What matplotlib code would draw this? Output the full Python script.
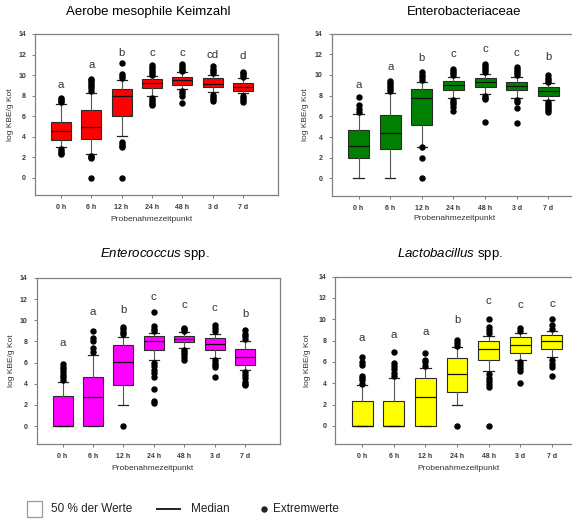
import matplotlib
matplotlib.use("Agg")
import matplotlib.pyplot as plt
from matplotlib.patches import Rectangle
from matplotlib.lines import Line2D

plt.rcParams['font.family'] = ['Liberation Sans', 'DejaVu Sans']
plt.rcParams['mathtext.fontset'] = 'custom'
plt.rcParams['mathtext.it'] = 'Liberation Sans:italic'
plt.rcParams['mathtext.rm'] = 'Liberation Sans'

timepoints = ["0 h", "6 h", "12 h", "24 h", "48 h", "3 d", "7 d"]
yticks = [0, 2, 4, 6, 8, 10, 12, 14]

# Aerobe mesophile Keimzahl
aer_q1 = [3.65, 3.8, 6.05, 8.75, 9.05, 8.8, 8.45]
aer_med = [4.5, 4.95, 8.0, 9.2, 9.5, 9.15, 8.85]
aer_q3 = [5.45, 6.6, 8.65, 9.6, 9.85, 9.7, 9.25]
aer_lo = [3.0, 2.3, 4.05, 8.0, 8.6, 8.3, 8.2]
aer_hi = [7.2, 8.2, 9.5, 9.9, 10.3, 10.0, 9.7]
aer_fliers = [
    [7.35, 7.5, 7.65, 7.75, 2.8, 2.6, 2.4, 2.25],
    [8.45, 8.7, 8.9, 9.1, 9.3, 9.5, 9.65, 2.15, 2.0, 1.9, 0.0],
    [9.75, 9.95, 10.1, 11.2, 3.45, 3.3, 3.1, 3.0, 0.0],
    [10.0, 10.2, 10.4, 10.6, 10.8, 11.0, 7.8, 7.6, 7.4, 7.2, 7.05],
    [10.35, 10.5, 10.7, 10.9, 11.05, 8.4, 8.2, 8.0, 7.25],
    [10.2, 10.4, 10.6, 10.9, 8.1, 7.9, 7.7, 7.5],
    [9.8, 10.0, 10.15, 10.3, 8.0, 7.8, 7.6, 7.4],
]
aer_letters = ["a", "a", "b", "c", "c", "cd", "d"]
aer_letter_y = [8.77, 10.68, 11.82, 11.82, 11.82, 11.69, 11.59]

# Enterobacteriaceae
ent_q1 = [2.0, 2.85, 5.15, 8.5, 8.85, 8.55, 7.95]
ent_med = [3.15, 4.4, 7.75, 9.0, 9.3, 8.95, 8.45]
ent_q3 = [4.65, 6.1, 8.6, 9.4, 9.7, 9.35, 8.85]
ent_lo = [0.0, 0.0, 3.05, 7.8, 8.2, 7.8, 7.55]
ent_hi = [6.2, 8.25, 9.3, 9.8, 10.1, 9.8, 9.2]
ent_fliers = [
    [6.45, 6.75, 7.05, 7.85],
    [8.4, 8.6, 8.8, 9.0, 9.2, 9.4],
    [9.5, 9.75, 10.0, 10.3, 3.0, 2.0, 0.0],
    [10.0, 10.2, 10.4, 10.55, 7.6, 7.4, 7.2, 6.9, 6.5],
    [10.3, 10.5, 10.7, 10.9, 11.05, 8.0, 7.8, 7.7, 5.45],
    [10.0, 10.2, 10.4, 10.6, 10.8, 7.6, 7.4, 6.8, 5.4],
    [9.35, 9.5, 9.7, 9.95, 7.4, 7.2, 7.0, 6.8, 6.6, 6.45],
]
ent_letters = ["a", "a", "b", "c", "c", "c", "b"]
ent_letter_y = [8.76, 10.5, 11.3, 11.77, 12.25, 11.8, 11.45]

# Enterococcus spp.
enc_q1 = [0.0, 0.0, 3.85, 7.2, 7.95, 7.2, 5.75]
enc_med = [0.0, 2.7, 6.05, 8.0, 8.25, 7.75, 6.55]
enc_q3 = [2.8, 4.6, 7.65, 8.55, 8.55, 8.35, 7.25]
enc_lo = [0.0, 0.0, 2.0, 6.2, 7.4, 6.45, 5.3]
enc_hi = [4.2, 6.7, 8.4, 8.8, 8.85, 8.7, 8.0]
enc_fliers = [
    [4.4, 4.6, 4.85, 5.1, 5.35, 5.6, 5.85],
    [7.0, 7.4, 8.0, 8.3, 9.0],
    [8.7, 8.9, 9.15, 9.4, 0.0],
    [9.0, 9.2, 9.45, 10.8, 6.0, 5.7, 5.3, 5.0, 4.6, 3.5, 2.4, 2.2],
    [9.0, 9.2, 9.3, 7.2, 7.0, 6.8, 6.5, 6.2],
    [8.95, 9.25, 9.6, 6.2, 6.0, 5.8, 5.6, 4.65],
    [8.2, 8.5, 8.7, 9.1, 5.1, 4.8, 4.5, 4.2, 4.0, 3.9],
]
enc_letters = ["a", "a", "b", "c", "c", "c", "b"]
enc_letter_y = [7.56, 10.5, 10.7, 11.93, 11.17, 10.86, 10.33]

# Lactobacillus spp.
lac_q1 = [0.0, 0.0, 0.0, 3.2, 6.15, 6.85, 7.25]
lac_med = [0.0, 0.0, 2.75, 4.9, 7.2, 7.6, 8.0]
lac_q3 = [2.3, 2.3, 4.45, 6.35, 8.0, 8.35, 8.55]
lac_lo = [0.0, 0.0, 0.0, 2.0, 5.1, 6.2, 6.45]
lac_hi = [3.8, 4.5, 5.45, 7.35, 8.45, 8.7, 8.9]
lac_fliers = [
    [3.95, 4.3, 4.5, 4.7, 5.75, 6.0, 6.5],
    [4.7, 5.0, 5.3, 5.6, 5.9, 6.9],
    [5.6, 5.95, 6.15, 6.85],
    [7.5, 7.8, 8.05, 0.0],
    [8.7, 9.0, 9.25, 10.0, 4.85, 4.5, 4.2, 3.9, 3.65, 0.0],
    [8.9, 9.2, 6.0, 5.7, 5.4, 5.1, 4.05],
    [9.1, 9.5, 10.0, 6.2, 5.8, 5.5, 4.65],
]
lac_letters = ["a", "a", "a", "b", "c", "c", "c"]
lac_letter_y = [7.99, 8.24, 8.49, 9.65, 11.4, 11.02, 11.18]

W, H = 572, 519
fig = plt.figure(figsize=(W / 100, H / 100), dpi=100)


def px_axes(left, top, width, height):
    return fig.add_axes([left / W, 1 - (top + height) / H, width / W, height / H])


panels = [
    dict(rect=(35, 34, 243, 161), q1=aer_q1, med=aer_med, q3=aer_q3, lo=aer_lo, hi=aer_hi,
         fl=aer_fliers, let=aer_letters, ly=aer_letter_y, color="#ff0000",
         title="Aerobe mesophile Keimzahl", tpos=(148, 12.5), xl=(151.5, 219), yl=14),
    dict(rect=(331.7, 33.5, 253, 162.5), q1=ent_q1, med=ent_med, q3=ent_q3, lo=ent_lo, hi=ent_hi,
         fl=ent_fliers, let=ent_letters, ly=ent_letter_y, color="#008000",
         title="Enterobacteriaceae", tpos=(464.5, 12), xl=(454, 218), yl=309),
    dict(rect=(36.7, 278, 243.4, 166), q1=enc_q1, med=enc_med, q3=enc_q3, lo=enc_lo, hi=enc_hi,
         fl=enc_fliers, let=enc_letters, ly=enc_letter_y, color="#ff00ff",
         title=r"$\it{Enterococcus}$ spp.", tpos=(155, 253.5), xl=(152.5, 469), yl=15),
    dict(rect=(335.3, 276.5, 253, 167.5), q1=lac_q1, med=lac_med, q3=lac_q3, lo=lac_lo, hi=lac_hi,
         fl=lac_fliers, let=lac_letters, ly=lac_letter_y, color="#ffff00",
         title=r"$\it{Lactobacillus}$ spp.", tpos=(450.5, 253.5), xl=(458.5, 469), yl=311),
]

positions = list(range(1, len(timepoints) + 1))

for p in panels:
    l, t, w, h = p["rect"]
    ax = px_axes(l, t, w, h)
    stats = []
    for i in range(len(timepoints)):
        stats.append(dict(q1=p["q1"][i], med=p["med"][i], q3=p["q3"][i],
                          whislo=p["lo"][i], whishi=p["hi"][i], fliers=p["fl"][i]))
    ax.bxp(stats, positions=positions, widths=0.66, capwidths=0.33, patch_artist=True,
           boxprops=dict(facecolor=p["color"], edgecolor="#2a2a2a", linewidth=0.8),
           medianprops=dict(color="#111111", linewidth=0.9),
           whiskerprops=dict(color="#555555", linewidth=0.8),
           capprops=dict(color="#222222", linewidth=0.9),
           flierprops=dict(marker="o", markerfacecolor="black", markeredgecolor="black",
                           markersize=3.6, linestyle="none"))
    for x, s, y in zip(positions, p["let"], p["ly"]):
        ax.text(x, y, s, ha="center", va="baseline", fontsize=8.2, color="#333333")
    ax.set_xlim(0.15, 8.15)
    ax.set_ylim(-1.7, 14)
    ax.set_xticks(positions)
    ax.set_xticklabels(timepoints)
    ax.set_yticks(yticks)
    ax.set_yticklabels([str(v) for v in yticks])
    ax.tick_params(direction="out", length=2.5, width=0.6, color="#666666",
                   labelsize=5, labelcolor="#3a3a3a", pad=4)
    for lab in ax.get_xticklabels() + ax.get_yticklabels():
        lab.set_fontweight("bold")
    for sp in ax.spines.values():
        sp.set_color("#808080")
        sp.set_linewidth(0.9)
    ax.set_ylabel("log KBE/g Kot", fontsize=6, color="#333333")
    ax.yaxis.set_label_coords((p["yl"] - l) / w, 0.5)
    fig.text(p["xl"][0] / W, 1 - p["xl"][1] / H, "Probenahmezeitpunkt",
             ha="center", va="center", fontsize=6, color="#333333")
    fig.text(p["tpos"][0] / W, 1 - p["tpos"][1] / H, p["title"],
             ha="center", va="center", fontsize=9.5, color="black")

# legend at the bottom
lax = fig.add_axes([0, 0, 1, 1], facecolor="none")
lax.set_xlim(0, W)
lax.set_ylim(H, 0)
lax.axis("off")
lax.add_patch(Rectangle((26.5, 500.5), 15, 16, facecolor="white", edgecolor="#9a9a9a", linewidth=0.9))
lax.text(51, 508.5, "50 % der Werte", ha="left", va="center", fontsize=8.5, color="#222222")
lax.add_line(Line2D([157, 180], [508.5, 508.5], color="#222222", linewidth=1.4))
lax.text(191, 508.5, "Median", ha="left", va="center", fontsize=8.5, color="#222222")
lax.plot([263.5], [508.5], marker="o", color="#222222", markersize=3.6)
lax.text(272.5, 508.5, "Extremwerte", ha="left", va="center", fontsize=8.5, color="#222222")

fig.savefig("out.png", dpi=100)
